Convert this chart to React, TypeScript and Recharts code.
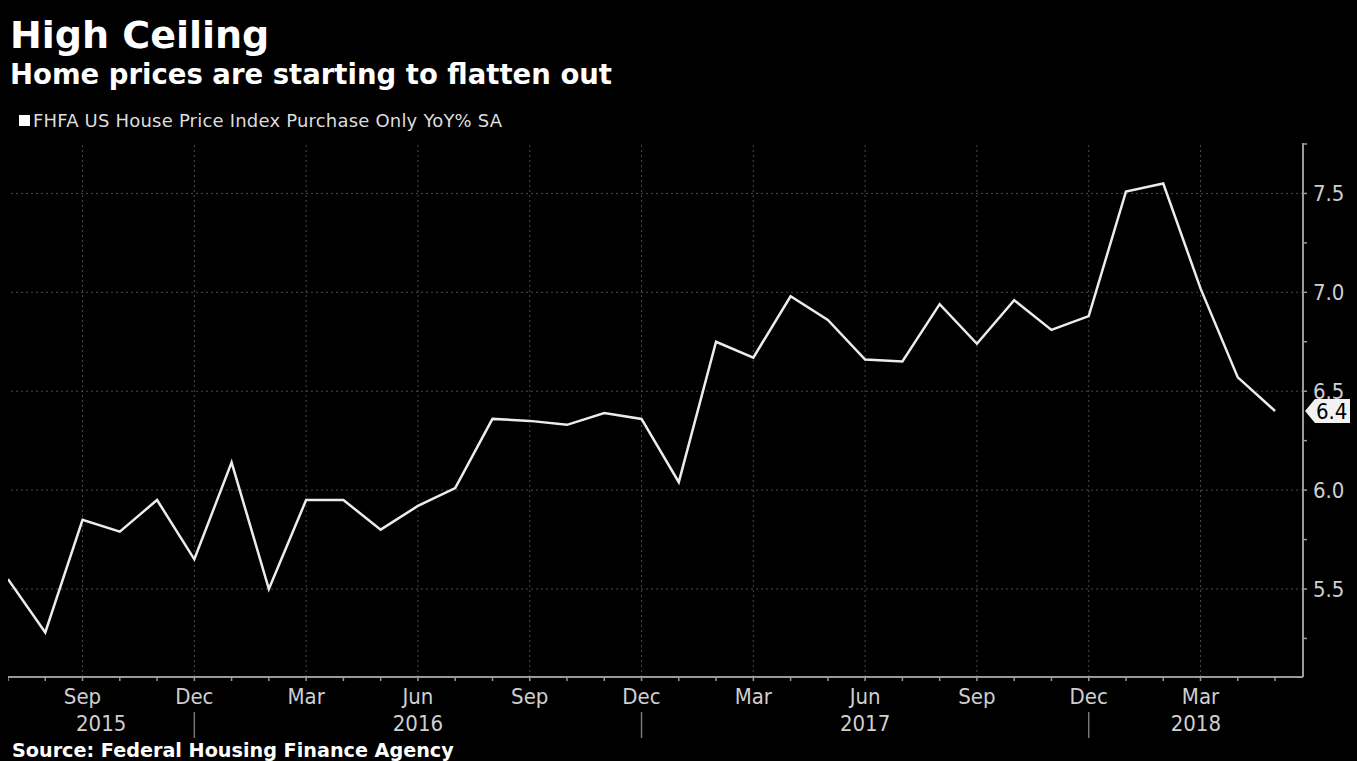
import * as React from 'react';
import { LineChart, Line, XAxis, YAxis, ReferenceLine } from 'recharts';

// FHFA US House Price Index Purchase Only YoY% SA, Jul 2015 - May 2018
const months = [
  'Jul', 'Aug', 'Sep', 'Oct', 'Nov', 'Dec',
  'Jan', 'Feb', 'Mar', 'Apr', 'May', 'Jun', 'Jul', 'Aug', 'Sep', 'Oct', 'Nov', 'Dec',
  'Jan', 'Feb', 'Mar', 'Apr', 'May', 'Jun', 'Jul', 'Aug', 'Sep', 'Oct', 'Nov', 'Dec',
  'Jan', 'Feb', 'Mar', 'Apr', 'May',
];
const hpiYoY = [
  5.55, 5.28, 5.85, 5.79, 5.95, 5.65,
  6.14, 5.50, 5.95, 5.95, 5.80, 5.92, 6.01, 6.36, 6.35, 6.33, 6.39, 6.36,
  6.04, 6.75, 6.67, 6.98, 6.86, 6.66, 6.65, 6.94, 6.74, 6.96, 6.81, 6.88,
  7.51, 7.55, 7.02, 6.57, 6.40,
];
const yearLabels = ['2015', '2016', '2017', '2018'];
const quarterMonths = ['Mar', 'Jun', 'Sep', 'Dec'];
const yTicks = [5.25, 5.5, 5.75, 6.0, 6.25, 6.5, 6.75, 7.0, 7.25, 7.5, 7.75];
const yMajor = [5.5, 6.0, 6.5, 7.0, 7.5];

const X_MAX = 34.75;
const Y_DOMAIN: [number, number] = [5.055, 7.755];

const data = months.map((m, i) => ({ i, m, v: hpiYoY[i] }));
const monthIdx = months.map((_, i) => i);
const quarterIdx = monthIdx.filter((i) => quarterMonths.includes(months[i]));
const decIdx = monthIdx.filter((i) => months[i] === 'Dec');
const bounds = [0, ...decIdx, X_MAX];
const yearCenters = yearLabels.map((_, k) => (bounds[k] + bounds[k + 1]) / 2);

const AXIS = '#9a9a9a';
const GRID = '#4a4a4a';
const TXT = '#cfcfcf';
const COND = "'DejaVu Sans Condensed', 'DejaVu Sans', sans-serif";
const BOLD = "'DejaVu Sans', sans-serif";

function MonthTick(props: any) {
  const { x, y, payload } = props;
  const m = months[payload.value];
  return (
    <g>
      <line x1={x} x2={x} y1={y} y2={y + 4} stroke={AXIS} strokeWidth={1.5} />
      {quarterMonths.includes(m) && (
        <text x={x} y={y + 27} textAnchor="middle" fill={TXT} fontSize={22} fontFamily={COND}>
          {m}
        </text>
      )}
      {m === 'Dec' && (
        <line x1={x} x2={x} y1={y + 35} y2={y + 61} stroke="#777" strokeWidth={1.5} />
      )}
    </g>
  );
}

function YearTick(props: any) {
  const { x, y, index } = props;
  return (
    <text x={x} y={y + 24} textAnchor="middle" fill={TXT} fontSize={22} fontFamily={COND}>
      {yearLabels[index]}
    </text>
  );
}

function ValueTick(props: any) {
  const { x, y, payload } = props;
  const major = yMajor.includes(payload.value);
  return (
    <g>
      <line x1={x} x2={x + 4} y1={y} y2={y} stroke={AXIS} strokeWidth={1.5} />
      {major && (
        <text x={x + 10} y={y + 8} fill={TXT} fontSize={22} fontFamily={COND}>
          {payload.value.toFixed(1)}
        </text>
      )}
    </g>
  );
}

function LastValueTag(props: any) {
  const { viewBox, value } = props;
  const r = viewBox.x + viewBox.width;
  const y = viewBox.y;
  const pts = `${r + 2},${y} ${r + 12},${y - 12} ${r + 47},${y - 12} ${r + 47},${y + 12} ${r + 12},${y + 12}`;
  return (
    <g>
      <polygon points={pts} fill="#f2f2f2" />
      <text x={r + 13} y={y + 8} fill="#000" fontSize={22} fontFamily={COND}>
        {value}
      </text>
    </g>
  );
}

export default function App() {
  const last = hpiYoY[hpiYoY.length - 1];
  return (
    <div style={{ position: 'fixed', left: 0, top: 0, width: 1357, height: 761, background: '#000', overflow: 'hidden' }}>
      <div style={{ position: 'absolute', left: 8, top: 0 }}>
        <LineChart width={1349} height={757} data={data} margin={{ top: 143, right: 0, left: 0, bottom: 0 }}>
          <XAxis
            dataKey="i" type="number" domain={[0, X_MAX]} ticks={monthIdx} interval={0}
            height={30} tickSize={0} tickMargin={0} tickLine={false}
            axisLine={{ stroke: AXIS, strokeWidth: 2 }} tick={<MonthTick />}
          />
          <XAxis
            xAxisId="year" dataKey="i" type="number" domain={[0, X_MAX]} ticks={yearCenters} interval={0}
            height={50} tickSize={0} tickMargin={0} tickLine={false} axisLine={false} tick={<YearTick />}
          />
          <YAxis
            orientation="right" width={54} domain={Y_DOMAIN} ticks={yTicks} interval={0}
            tickSize={0} tickMargin={0} tickLine={false}
            axisLine={{ stroke: AXIS, strokeWidth: 2 }} tick={<ValueTick />}
          />
          {yMajor.map((t) => (
            <ReferenceLine key={'h' + t} y={t} stroke={GRID} strokeDasharray="2 3" />
          ))}
          {quarterIdx.map((t) => (
            <ReferenceLine key={'v' + t} x={t} stroke={GRID} strokeDasharray="2 3" />
          ))}
          <Line
            type="linear" dataKey="v" stroke="#ececec" strokeWidth={2.5}
            dot={false} activeDot={false} isAnimationActive={false}
          />
          <ReferenceLine y={last} stroke="none" label={<LastValueTag value={last.toFixed(1)} />} />
        </LineChart>
      </div>
      <svg width={1357} height={761} style={{ position: 'absolute', left: 0, top: 0, pointerEvents: 'none' }}>
        <text x={10} y={48} fill="#fff" fontSize={38} fontWeight="bold" fontFamily={BOLD}>High Ceiling</text>
        <text x={10} y={84} fill="#fff" fontSize={27.5} fontWeight="bold" fontFamily={BOLD}>
          Home prices are starting to flatten out
        </text>
        <rect x={19} y={115} width={11} height={11} fill="#fff" />
        <text x={33} y={127} fill="#ddd" fontSize={18} fontFamily={BOLD} letterSpacing={0.2}>
          FHFA US House Price Index Purchase Only YoY% SA
        </text>
        <text x={12} y={757} fill="#fff" fontSize={19.2} fontWeight="bold" fontFamily={BOLD}>
          Source: Federal Housing Finance Agency
        </text>
      </svg>
    </div>
  );
}
